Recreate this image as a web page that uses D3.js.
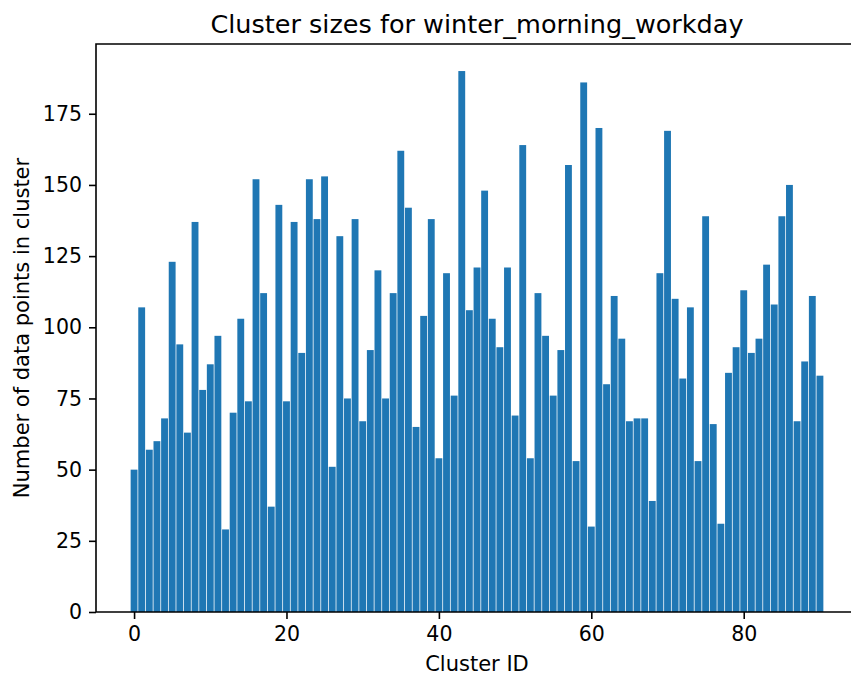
<!DOCTYPE html>
<html>
<head>
<meta charset="utf-8">
<script src="https://cdn.jsdelivr.net/npm/d3@7"></script>
<style>
  body { margin: 0; background: #fff; }
  svg { display: block; }
  text { font-family: "DejaVu Sans", sans-serif; fill: #000; }
</style>
</head>
<body>
<div id="chart"></div>
<script>
const TITLE = "Cluster sizes for winter_morning_workday";
const X_LABEL = "Cluster ID";
const Y_LABEL = "Number of data points in cluster";

// cluster sizes, cluster id = index
const clusterSizes = [
    50, 107, 57, 60, 68, 123, 94, 63, 137, 78,
    87, 97, 29, 70, 103, 74, 152, 112, 37, 143,
    74, 137, 91, 152, 138, 153, 51, 132, 75, 138,
    67, 92, 120, 75, 112, 162, 142, 65, 104, 138,
    54, 119, 76, 190, 106, 121, 148, 103, 93, 121,
    69, 164, 54, 112, 97, 76, 92, 157, 53, 186,
    30, 170, 80, 111, 96, 67, 68, 68, 39, 119,
    169, 110, 82, 107, 53, 139, 66, 31, 84, 93,
    113, 91, 96, 122, 108, 139, 150, 67, 88, 111,
    83
];
const clusterIds = clusterSizes.map((d, i) => i);

const xTicks = [0, 20, 40, 60, 80];
const yTicks = [0, 25, 50, 75, 100, 125, 150, 175];

const width = 851, height = 680;
const margin = {top: 44, left: 96, bottom: 68};
const BAR_WIDTH = 0.9;
const color = "#1f77b4";

// matplotlib style 5% margins
const xMin = -BAR_WIDTH / 2, xMax = clusterIds.length - 1 + BAR_WIDTH / 2;
const xPad = (xMax - xMin) * 0.05;
const x = d3.scaleLinear()
    .domain([xMin - xPad, xMax + xPad])
    .range([margin.left, margin.left + 762]);

const y = d3.scaleLinear()
    .domain([0, d3.max(clusterSizes) * 1.05])
    .range([height - margin.bottom, margin.top]);

const svg = d3.select("#chart").append("svg")
    .attr("width", width)
    .attr("height", height)
    .attr("viewBox", [0, 0, width, height]);

svg.append("g")
    .attr("fill", color)
    .selectAll("rect")
    .data(clusterSizes)
    .join("rect")
        .attr("x", (d, i) => x(clusterIds[i] - BAR_WIDTH / 2))
        .attr("width", x(BAR_WIDTH) - x(0))
        .attr("y", d => y(d))
        .attr("height", d => y(0) - y(d));

const xAxis = g => g
    .attr("transform", `translate(0,${y(0)})`)
    .call(d3.axisBottom(x).tickValues(xTicks).tickSize(7).tickPadding(7).tickSizeOuter(0))
    .call(g => g.select(".domain").remove())
    .call(g => g.selectAll(".tick line").attr("stroke-width", 1.6))
    .call(g => g.selectAll(".tick text").attr("font-size", 20.5).attr("font-family", "DejaVu Sans"));

const yAxis = g => g
    .attr("transform", `translate(${margin.left},0)`)
    .call(d3.axisLeft(y).tickValues(yTicks).tickSize(7).tickPadding(7).tickSizeOuter(0))
    .call(g => g.select(".domain").remove())
    .call(g => g.selectAll(".tick line").attr("stroke-width", 1.6))
    .call(g => g.selectAll(".tick text").attr("font-size", 20.5).attr("font-family", "DejaVu Sans"));

svg.append("g").call(xAxis);
svg.append("g").call(yAxis);

// spines
const [x0, x1] = x.range();
const [yb, yt] = y.range();
svg.append("path")
    .attr("fill", "none")
    .attr("stroke", "#000")
    .attr("stroke-width", 1.6)
    .attr("stroke-linecap", "square")
    .attr("d", `M${x0},${yb}H${x1}V${yt}H${x0}Z`);

svg.append("text")
    .attr("x", (x0 + x1) / 2)
    .attr("y", yt - 11)
    .attr("text-anchor", "middle")
    .attr("font-size", 25.5)
    .text(TITLE);

svg.append("text")
    .attr("x", (x0 + x1) / 2)
    .attr("y", 671)
    .attr("text-anchor", "middle")
    .attr("font-size", 21)
    .text(X_LABEL);

svg.append("text")
    .attr("transform", `translate(29,${(yb + yt) / 2}) rotate(-90)`)
    .attr("text-anchor", "middle")
    .attr("font-size", 21)
    .text(Y_LABEL);
</script>
</body>
</html>
